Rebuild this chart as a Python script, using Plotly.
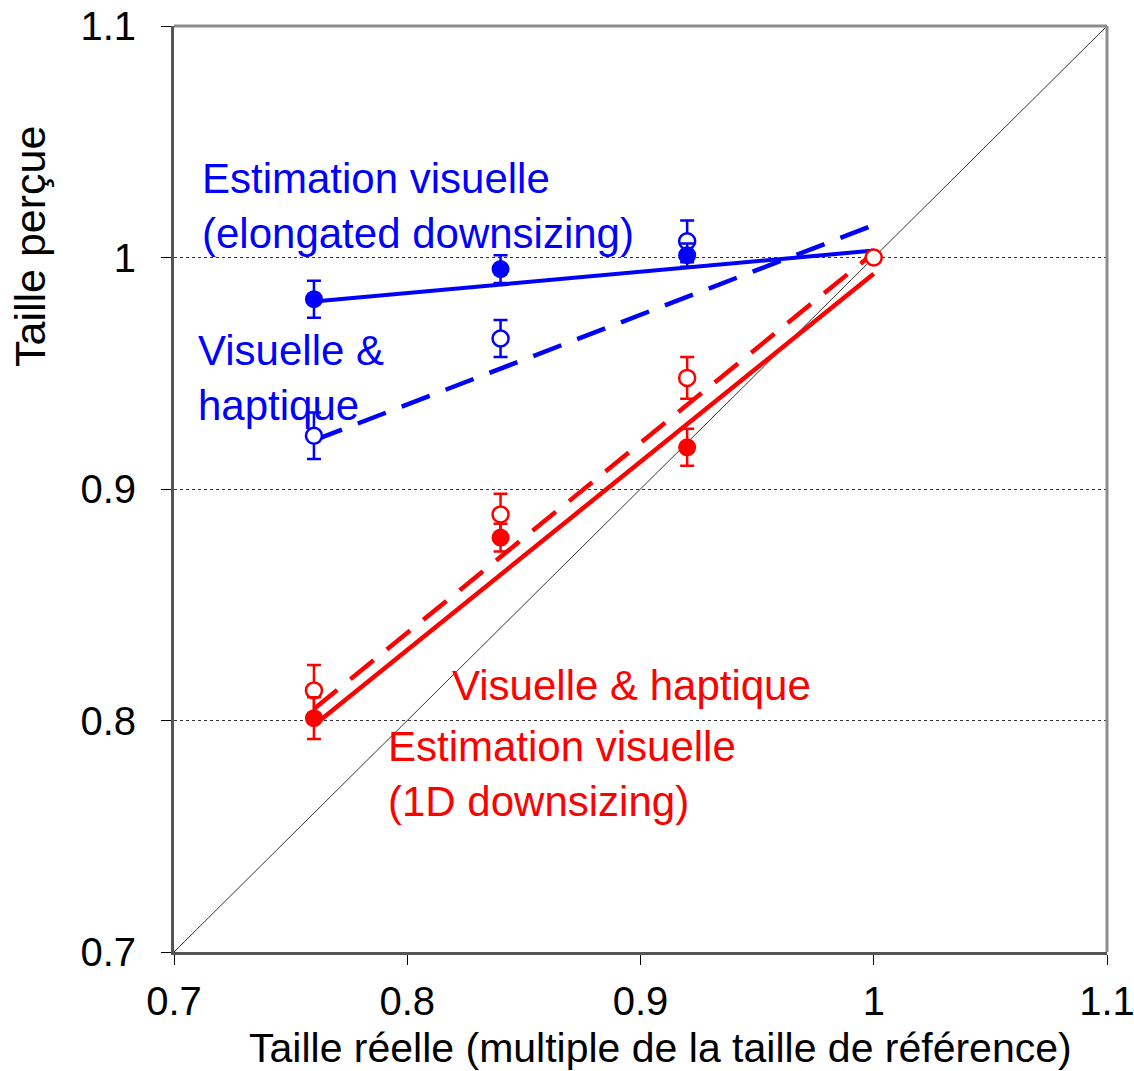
import plotly.graph_objects as go

# Data
x_levels = [0.76, 0.84, 0.92]

blue_vis_y = [0.982, 0.995, 1.001]          # Estimation visuelle (elongated) - filled
blue_vis_err = [0.008, 0.006, 0.005]
blue_vh_y = [0.923, 0.965, 1.007]           # Visuelle & haptique - open
blue_vh_err = [0.010, 0.008, 0.009]

red_vis_y = [0.801, 0.879, 0.918]           # Estimation visuelle (1D) - filled
red_vis_err = [0.009, 0.006, 0.008]
red_vh_y = [0.813, 0.889, 0.948]            # Visuelle & haptique - open
red_vh_err = [0.011, 0.009, 0.009]

ref_x = [1.0]
ref_y = [1.0]

fit_x = [0.76, 1.0]
blue_vis_fit = [0.981, 1.003]
blue_vh_fit = [0.921, 1.014]
red_vis_fit = [0.798, 0.993]
red_vh_fit = [0.805, 1.002]

diag = [0.7, 1.1]

x_ticks = [0.7, 0.8, 0.9, 1.0, 1.1]
x_ticklabels = ["0.7", "0.8", "0.9", "1", "1.1"]
y_ticks = [0.7, 0.8, 0.9, 1.0, 1.1]
y_ticklabels = ["0.7", "0.8", "0.9", "1", "1.1"]

BLUE = "#0000FF"
RED = "#FF0000"
FONT = "Liberation Sans, Arial, sans-serif"

fig = go.Figure()

# identity line
fig.add_trace(go.Scatter(x=diag, y=diag, mode="lines",
                         line=dict(color="black", width=0.8), hoverinfo="skip"))

# fit lines
fig.add_trace(go.Scatter(x=fit_x, y=blue_vis_fit, mode="lines",
                         line=dict(color=BLUE, width=4)))
fig.add_trace(go.Scatter(x=fit_x, y=blue_vh_fit, mode="lines",
                         line=dict(color=BLUE, width=4.5, dash="30px,17px")))
fig.add_trace(go.Scatter(x=fit_x, y=red_vis_fit, mode="lines",
                         line=dict(color=RED, width=4.5)))
fig.add_trace(go.Scatter(x=fit_x, y=red_vh_fit, mode="lines",
                         line=dict(color=RED, width=4.5, dash="30px,17px")))

def err(arr, color):
    return dict(type="data", array=arr, visible=True, color=color, thickness=2.5, width=7)

# markers
fig.add_trace(go.Scatter(x=x_levels, y=blue_vh_y, mode="markers",
                         error_y=err(blue_vh_err, BLUE),
                         marker=dict(symbol="circle", size=16, color="white",
                                     line=dict(color=BLUE, width=2.5))))
fig.add_trace(go.Scatter(x=x_levels, y=blue_vis_y, mode="markers",
                         error_y=err(blue_vis_err, BLUE),
                         marker=dict(symbol="circle", size=18, color=BLUE,
                                     line=dict(width=0))))
fig.add_trace(go.Scatter(x=x_levels, y=red_vh_y, mode="markers",
                         error_y=err(red_vh_err, RED),
                         marker=dict(symbol="circle", size=16, color="white",
                                     line=dict(color=RED, width=2.5))))
fig.add_trace(go.Scatter(x=x_levels, y=red_vis_y, mode="markers",
                         error_y=err(red_vis_err, RED),
                         marker=dict(symbol="circle", size=18, color=RED,
                                     line=dict(width=0))))
fig.add_trace(go.Scatter(x=ref_x, y=ref_y, mode="markers",
                         marker=dict(symbol="circle", size=16, color="white",
                                     line=dict(color=RED, width=2.5))))

# annotations
ann_font = 42
annotations = [
    dict(x=0.7112, y=1.0222, text="Estimation visuelle<br>(elongated downsizing)",
         color=BLUE),
    dict(x=0.7095, y=0.9478, text="Visuelle &<br>haptique", color=BLUE),
    dict(x=0.8185, y=0.8153, text="Visuelle & haptique", color=RED),
    dict(x=0.7910, y=0.7767, text="Estimation visuelle<br>(1D downsizing)", color=RED),
]
for a in annotations:
    fig.add_annotation(x=a["x"], y=a["y"], xref="x", yref="y", text=a["text"],
                       showarrow=False, xanchor="left", yanchor="middle", align="left",
                       font=dict(family=FONT, size=ann_font, color=a["color"]))

# axis titles
fig.add_annotation(x=(30 - 174) / 933, y=(952 - 247) / 926, xref="paper", yref="paper",
                   text="Taille perçue", textangle=-90, showarrow=False,
                   xanchor="center", yanchor="middle",
                   font=dict(family=FONT, size=43, color="black"))
fig.add_annotation(x=(660 - 174) / 933, y=-(1048 - 952) / 926, xref="paper", yref="paper",
                   text="Taille réelle (multiple de la taille de référence)", showarrow=False,
                   xanchor="center", yanchor="middle",
                   font=dict(family=FONT, size=41, color="black"))

# top & right frame
fig.add_shape(type="line", xref="paper", yref="paper", x0=0, x1=1, y0=1, y1=1,
              line=dict(color="#8c8c8c", width=3))
fig.add_shape(type="line", xref="paper", yref="paper", x0=1, x1=1, y0=0, y1=1,
              line=dict(color="#8c8c8c", width=3))

fig.update_layout(
    width=1134, height=1071,
    margin=dict(l=174, r=27, t=26, b=119),
    paper_bgcolor="white", plot_bgcolor="white",
    showlegend=False,
    font=dict(family=FONT, color="black"),
    xaxis=dict(range=[0.7, 1.1], tickvals=x_ticks, ticktext=x_ticklabels,
               showgrid=False, zeroline=False, automargin=False,
               showline=True, linecolor="#555555", linewidth=3,
               ticks="outside", ticklen=10, tickwidth=1, tickcolor="black",
               tickfont=dict(family=FONT, size=40, color="black"),
               ticklabelstandoff=2, ticklabeloverflow="allow"),
    yaxis=dict(range=[0.7, 1.1], tickvals=y_ticks, ticktext=y_ticklabels,
               showgrid=True, gridcolor="#333333", gridwidth=1, griddash="dot",
               zeroline=False, automargin=False,
               showline=True, linecolor="#555555", linewidth=3,
               ticks="outside", ticklen=10, tickwidth=1, tickcolor="black",
               tickfont=dict(family=FONT, size=40, color="black"),
               ticklabelstandoff=17, ticklabeloverflow="allow"),
)

fig.write_html("out.html")
